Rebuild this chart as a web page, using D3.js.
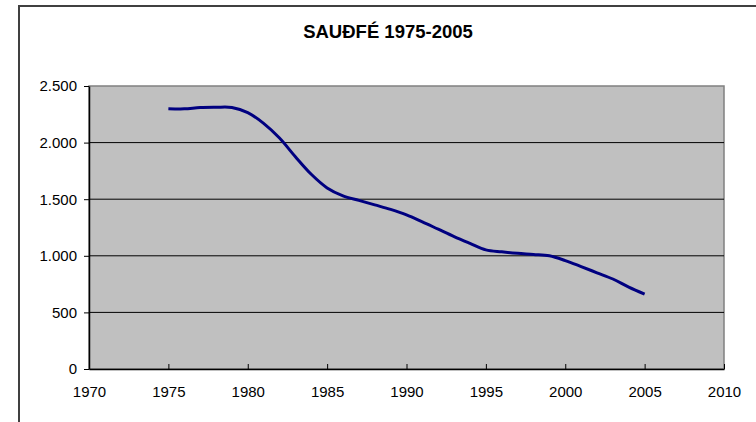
<!DOCTYPE html>
<html lang="en">
<head>
    <meta charset="UTF-8">
    <title>Sauðfé 1975-2005</title>
    <script src="https://cdn.jsdelivr.net/npm/d3@7"></script>
    <style>
        body{
            margin: 0;
            background: white;
            font-family: "Liberation Sans", Arial, sans-serif;
        }
        .axis text{
            font-family: "Liberation Sans", Arial, sans-serif;
            font-size: 15px;
            fill: black;
        }
        .axis path, .axis line{
            stroke: black;
        }
    </style>
</head>
<body>
<svg id="main" width="756" height="422"></svg>
<script>
    const width = 756, height = 422;
    const margin = {top: 86, bottom: 53, left: 89, right: 32};

    // data
    const years = [1975,1976,1977,1978,1979,1980,1981,1982,1983,1984,1985,1986,1987,1988,1989,1990,
                   1991,1992,1993,1994,1995,1996,1997,1998,1999,2000,2001,2002,2003,2004,2005];
    const sheep = [2300,2298,2310,2312,2310,2265,2170,2040,1875,1720,1600,1530,1490,1450,1410,1362,
                   1300,1235,1170,1110,1052,1035,1022,1012,1000,958,905,850,795,724,662];
    const xTicks = [1970,1975,1980,1985,1990,1995,2000,2005,2010];
    const yTicks = [0,500,1000,1500,2000,2500];
    const title = "SAUÐFÉ 1975-2005";

    const svg = d3.select("svg#main");

    // outer chart frame
    svg.append("rect")
        .attr("x", 19).attr("y", 6)
        .attr("width", 760).attr("height", 440)
        .attr("fill", "white")
        .attr("stroke", "#404040")
        .attr("stroke-width", 2);

    const xScale = d3.scaleLinear()
        .domain([1970, 2010])
        .range([margin.left, width - margin.right]);
    const yScale = d3.scaleLinear()
        .domain([0, 2500])
        .range([height - margin.bottom, margin.top]);

    // plot area
    svg.append("rect")
        .attr("x", margin.left).attr("y", margin.top)
        .attr("width", xScale(2010) - xScale(1970))
        .attr("height", yScale(0) - yScale(2500))
        .attr("fill", "#c0c0c0")
        .attr("stroke", "#808080")
        .attr("stroke-width", 1.5);

    // gridlines
    svg.append("g")
        .selectAll("line")
        .data(yTicks.filter(d => d > 0 && d < 2500))
        .join("line")
        .attr("x1", xScale(1970)).attr("x2", xScale(2010))
        .attr("y1", d => yScale(d)).attr("y2", d => yScale(d))
        .attr("stroke", "black")
        .attr("stroke-width", 1);

    const xAxis = d3.axisBottom(xScale)
        .tickValues(xTicks)
        .tickFormat(d3.format("d"))
        .tickSizeInner(-5)
        .tickSizeOuter(0)
        .tickPadding(17);
    svg.append("g")
        .attr("class", "axis")
        .attr("transform", `translate(0,${yScale(0)})`)
        .call(xAxis)
        .call(g => g.selectAll(".tick line").attr("y2", -5))
        .call(g => g.select(".domain").attr("stroke-width", 1.5));

    const fmt = d => d3.format(",")(d).replace(/,/g, ".");
    const yAxis = d3.axisLeft(yScale)
        .tickValues(yTicks)
        .tickFormat(fmt)
        .tickSizeInner(5)
        .tickSizeOuter(0)
        .tickPadding(7);
    svg.append("g")
        .attr("class", "axis")
        .attr("transform", `translate(${margin.left},0)`)
        .call(yAxis)
        .call(g => g.select(".domain").attr("stroke-width", 1.5));

    // the line
    const line = d3.line()
        .x((d, i) => xScale(years[i]))
        .y(d => yScale(d))
        .curve(d3.curveCatmullRom);
    svg.append("path")
        .datum(sheep)
        .attr("fill", "none")
        .attr("stroke", "#000080")
        .attr("stroke-width", 3)
        .attr("d", line);

    svg.append("text")
        .attr("x", 388).attr("y", 38)
        .attr("text-anchor", "middle")
        .attr("font-size", "18.5px")
        .attr("font-weight", "bold")
        .text(title);
</script>
</body>
</html>
